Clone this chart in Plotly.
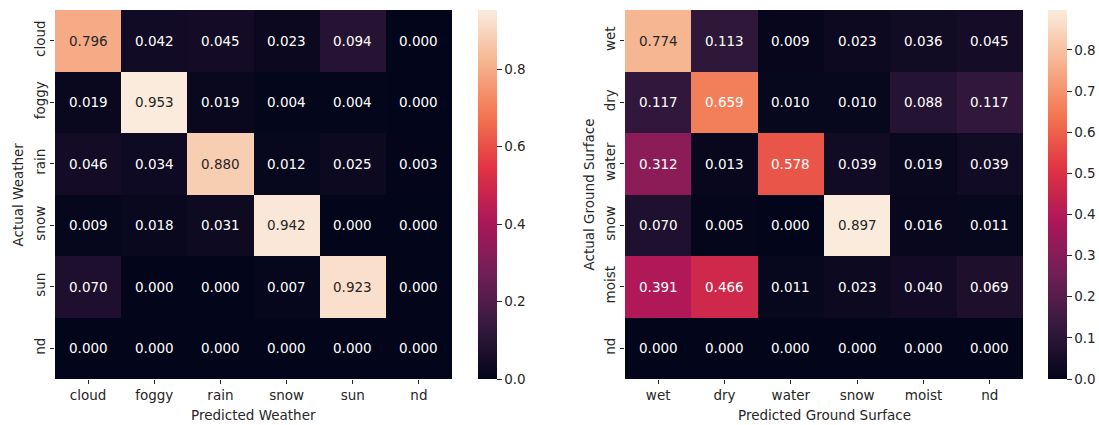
import plotly.graph_objects as go

# ---- data ----
weather_labels = ["cloud", "foggy", "rain", "snow", "sun", "nd"]
weather_values = [
    [0.796, 0.042, 0.045, 0.023, 0.094, 0.000],
    [0.019, 0.953, 0.019, 0.004, 0.004, 0.000],
    [0.046, 0.034, 0.880, 0.012, 0.025, 0.003],
    [0.009, 0.018, 0.031, 0.942, 0.000, 0.000],
    [0.070, 0.000, 0.000, 0.007, 0.923, 0.000],
    [0.000, 0.000, 0.000, 0.000, 0.000, 0.000],
]
surface_labels = ["wet", "dry", "water", "snow", "moist", "nd"]
surface_values = [
    [0.774, 0.113, 0.009, 0.023, 0.036, 0.045],
    [0.117, 0.659, 0.010, 0.010, 0.088, 0.117],
    [0.312, 0.013, 0.578, 0.039, 0.019, 0.039],
    [0.070, 0.005, 0.000, 0.897, 0.016, 0.011],
    [0.391, 0.466, 0.011, 0.023, 0.040, 0.069],
    [0.000, 0.000, 0.000, 0.000, 0.000, 0.000],
]
weather_cb_ticks = [0.0, 0.2, 0.4, 0.6, 0.8]
surface_cb_ticks = [0.0, 0.1, 0.2, 0.3, 0.4, 0.5, 0.6, 0.7, 0.8]

# ---- style ----
FONT = "DejaVu Sans"
FS = 13.5
TXT = "#262626"
W, H = 1099, 425

rocket_pts = [
    (0.0, "#03051a"),
    (1 / 7, "#35193e"),
    (2 / 7, "#701f57"),
    (3 / 7, "#ad1759"),
    (4 / 7, "#e13342"),
    (5 / 7, "#f37651"),
    (6 / 7, "#f6b48f"),
    (1.0, "#faebdd"),
]
rocket = [[p, c] for p, c in rocket_pts]


def hex2rgb(h):
    h = h.lstrip("#")
    return [int(h[i:i + 2], 16) / 255 for i in (0, 2, 4)]


def cmap(t):
    t = min(max(t, 0), 1)
    for (p0, c0), (p1, c1) in zip(rocket_pts[:-1], rocket_pts[1:]):
        if p0 <= t <= p1:
            f = (t - p0) / (p1 - p0) if p1 > p0 else 0
            a, b = hex2rgb(c0), hex2rgb(c1)
            return [a[i] + f * (b[i] - a[i]) for i in range(3)]
    return hex2rgb(rocket_pts[-1][1])


def lum(rgb):
    out = []
    for c in rgb:
        out.append(c / 12.92 if c <= 0.03928 else ((c + 0.055) / 1.055) ** 2.4)
    return 0.2126 * out[0] + 0.7152 * out[1] + 0.0722 * out[2]


def px_x(p):
    return p / W


def px_y(p):
    return 1 - p / H


panels = [
    dict(labels=weather_labels, z=weather_values, cb_ticks=weather_cb_ticks,
         x0=55, x1=452, cbx=478, xt="Predicted Weather", yt="Actual Weather",
         ytx=17, xa="x", ya="y"),
    dict(labels=surface_labels, z=surface_values, cb_ticks=surface_cb_ticks,
         x0=625, x1=1023, cbx=1048, xt="Predicted Ground Surface",
         yt="Actual Ground Surface", ytx=588, xa="x2", ya="y2"),
]

top, bottom = 10, 379

fig = go.Figure()
annotations = []
layout_axes = {}
for i, pnl in enumerate(panels):
    zmax = max(max(r) for r in pnl["z"])
    fig.add_trace(go.Heatmap(
        z=pnl["z"], x=pnl["labels"], y=pnl["labels"],
        xaxis=pnl["xa"], yaxis=pnl["ya"],
        colorscale=rocket, zmin=0, zmax=zmax,
        hoverinfo="skip",
        colorbar=dict(
            x=px_x(pnl["cbx"]), xanchor="left", xref="paper",
            y=px_y(top), yanchor="top", yref="paper",
            len=bottom - top, lenmode="pixels",
            thickness=19, thicknessmode="pixels",
            xpad=0, ypad=0, outlinewidth=0,
            tickvals=pnl["cb_ticks"], tickformat=".1f",
            ticks="outside", ticklen=5, tickwidth=1, tickcolor=TXT,
            tickfont=dict(family=FONT, size=FS, color=TXT),
        ),
    ))
    for r, row in enumerate(pnl["z"]):
        for c, v in enumerate(row):
            col = TXT if lum(cmap(v / zmax)) > 0.408 else "white"
            annotations.append(dict(
                x=pnl["labels"][c], y=pnl["labels"][r],
                xref=pnl["xa"], yref=pnl["ya"],
                text=f"{v:.3f}", showarrow=False,
                font=dict(family=FONT, size=FS, color=col),
            ))
    # axis titles
    annotations.append(dict(
        x=px_x((pnl["x0"] + pnl["x1"]) / 2), y=px_y(415), xref="paper", yref="paper",
        text=pnl["xt"], showarrow=False, xanchor="center", yanchor="middle",
        font=dict(family=FONT, size=FS, color=TXT),
    ))
    annotations.append(dict(
        x=px_x(pnl["ytx"]), y=px_y((top + bottom) / 2), xref="paper", yref="paper",
        text=pnl["yt"], showarrow=False, textangle=-90, xanchor="center", yanchor="middle",
        font=dict(family=FONT, size=FS, color=TXT),
    ))
    sfx = "" if i == 0 else "2"
    layout_axes["xaxis" + sfx] = dict(
        domain=[px_x(pnl["x0"]), px_x(pnl["x1"])],
        anchor="y" + sfx, showgrid=False, zeroline=False, showline=False,
        ticks="outside", ticklen=4, tickcolor=TXT, automargin=False,
        tickfont=dict(family=FONT, size=FS, color=TXT),
        categoryorder="array", categoryarray=pnl["labels"],
    )
    layout_axes["yaxis" + sfx] = dict(
        domain=[px_y(bottom), px_y(top)],
        anchor="x" + sfx, showgrid=False, zeroline=False, showline=False,
        ticks="outside", ticklen=4, tickcolor=TXT, tickangle=-90, automargin=False,
        tickfont=dict(family=FONT, size=FS, color=TXT),
        categoryorder="array", categoryarray=pnl["labels"],
        autorange="reversed",
    )

fig.update_layout(
    width=W, height=H,
    margin=dict(l=0, r=0, t=0, b=0, autoexpand=False),
    paper_bgcolor="white", plot_bgcolor="white",
    showlegend=False,
    annotations=annotations,
    **layout_axes,
)

fig.write_html(
    "out.html",
    config={"displayModeBar": False},
    post_script="document.body.style.margin='0';document.body.style.overflow='hidden';",
)
